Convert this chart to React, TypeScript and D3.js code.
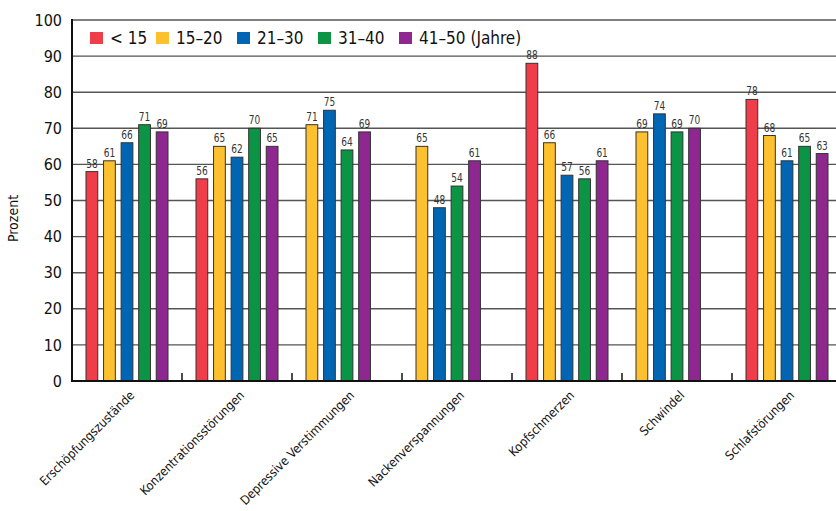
import React from "react";
import * as d3 from "d3";

const categories = [
  "Erschöpfungszustände",
  "Konzentrationsstörungen",
  "Depressive Verstimmungen",
  "Nackenverspannungen",
  "Kopfschmerzen",
  "Schwindel",
  "Schlafstörungen",
];
const seriesNames = ["< 15", "15–20", "21–30", "31–40", "41–50 (Jahre)"];
const seriesColors = ["#EF3E4A", "#FDC02F", "#0065B3", "#0B9444", "#8E278F"];
const under15 = [58, 56, null, null, 88, null, 78];
const age15to20 = [61, 65, 71, 65, 66, 69, 68];
const age21to30 = [66, 62, 75, 48, 57, 74, 61];
const age31to40 = [71, 70, 64, 54, 56, 69, 65];
const age41to50 = [69, 65, 69, 61, 61, 70, 63];
const yTicks = [0, 10, 20, 30, 40, 50, 60, 70, 80, 90, 100];

const seriesValues: (number | null)[][] = [under15, age15to20, age21to30, age31to40, age41to50];

const W = 836;
const H = 511;
const M = { left: 72, right: 842, top: 20, bottom: 381 };
const cond = "'DejaVu Sans Condensed', 'Liberation Sans Narrow', 'DejaVu Sans', sans-serif";

export default function App() {
  const x0 = d3.scaleBand<string>().domain(categories).range([M.left, M.right]).padding(0);
  const gw = x0.bandwidth();
  const x1 = d3
    .scaleBand<number>()
    .domain(d3.range(seriesNames.length))
    .range([14, gw - 14])
    .paddingInner(0.33);
  const y = d3.scaleLinear().domain([0, 100]).range([M.bottom, M.top]);

  return (
    <svg
      width={W}
      height={H}
      style={{ position: "absolute", left: 0, top: 0, display: "block", background: "#fff" }}
    >
      {yTicks.map((t) => (
        <line
          key={"g" + t}
          x1={M.left}
          x2={M.right}
          y1={y(t)}
          y2={y(t)}
          stroke={t === 0 ? "#111" : "#555"}
          strokeWidth={t === 0 ? 2 : 1.4}
        />
      ))}
      {yTicks.map((t) => (
        <text
          key={"yl" + t}
          x={62}
          y={y(t)}
          dy="0.35em"
          textAnchor="end"
          fontFamily={cond}
          fontSize={16}
          fontWeight={500}
          fill="#111"
        >
          {t}
        </text>
      ))}
      <text
        transform={`translate(18,${(M.top + M.bottom) / 2 + 18}) rotate(-90)`}
        textAnchor="middle"
        fontFamily={cond}
        fontSize={14}
        fill="#111"
      >
        Prozent
      </text>
      {categories.map((c, ci) => {
        const present = seriesValues
          .map((s, si) => ({ si, v: s[ci] }))
          .filter((d) => d.v !== null) as { si: number; v: number }[];
        return (
          <g key={c} transform={`translate(${x0(c)},0)`}>
            {present.map((d, slot) => {
              const cx = (x1(slot) as number) + x1.bandwidth() / 2;
              const ty = y(d.v) - 4;
              return (
                <g key={d.si}>
                  <rect
                    x={x1(slot)}
                    y={y(d.v)}
                    width={x1.bandwidth()}
                    height={y(0) - y(d.v)}
                    fill={seriesColors[d.si]}
                    stroke="#333"
                    strokeWidth={1}
                  />
                  <text
                    transform={`translate(${cx},${ty}) scale(0.8,1)`}
                    textAnchor="middle"
                    fontFamily={cond}
                    fontSize={12.5}
                    fill="#333"
                  >
                    {d.v}
                  </text>
                </g>
              );
            })}
          </g>
        );
      })}
      {categories.slice(1).map((c) => (
        <line
          key={"t" + c}
          x1={x0(c)}
          x2={x0(c)}
          y1={M.bottom - 8}
          y2={M.bottom}
          stroke="#111"
          strokeWidth={1.5}
        />
      ))}
      <line x1={M.left} x2={M.left} y1={M.top - 1} y2={M.bottom + 1} stroke="#111" strokeWidth={2} />
      <line x1={M.left} x2={M.right} y1={M.bottom} y2={M.bottom} stroke="#111" strokeWidth={2} />
      {categories.map((c) => {
        const cx = (x0(c) as number) + gw / 2 + 5;
        const cy = M.bottom + 12;
        return (
          <text
            key={"xl" + c}
            transform={`translate(${cx},${cy}) rotate(-45)`}
            textAnchor="end"
            dy="0.35em"
            fontFamily={cond}
            fontSize={12.5}
            fill="#111"
          >
            {c}
          </text>
        );
      })}
      {seriesNames.map((n, i) => {
        const lx = [90, 156, 237, 318, 399][i];
        return (
          <g key={"lg" + i}>
            <rect x={lx} y={32} width={13} height={12} fill={seriesColors[i]} />
            <text
              x={lx + 20}
              y={38}
              dy="0.35em"
              fontFamily={cond}
              fontSize={17}
              fontWeight={500}
              fill="#111"
            >
              {n}
            </text>
          </g>
        );
      })}
    </svg>
  );
}
